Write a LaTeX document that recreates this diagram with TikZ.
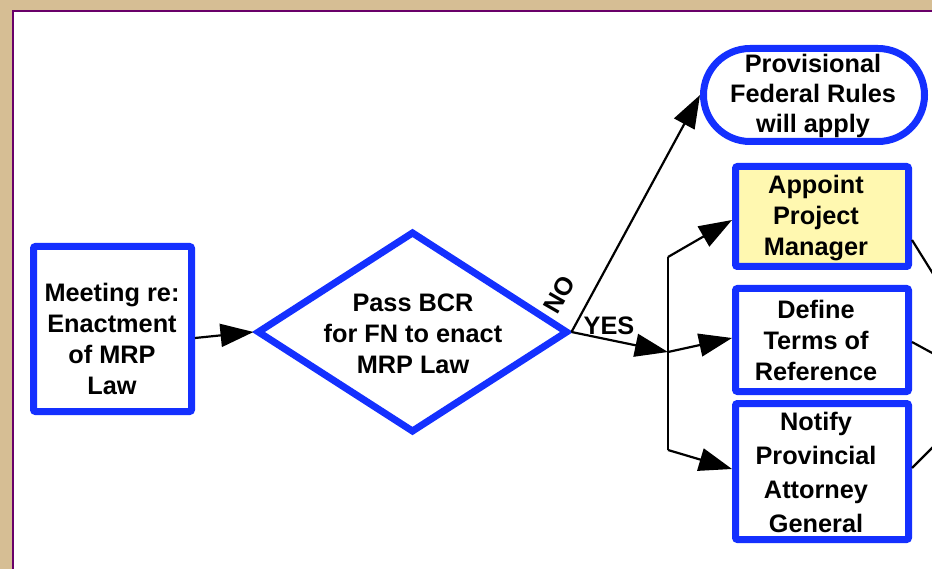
\documentclass[tikz,border=0pt]{standalone}
\usepackage{fontspec}
\setmainfont{Liberation Sans}
\usetikzlibrary{shapes.geometric,arrows.meta}
\definecolor{fblue}{RGB}{20,48,255}
\definecolor{fyellow}{RGB}{255,248,176}
\definecolor{bgtan}{RGB}{214,190,148}
\definecolor{bpurple}{RGB}{105,0,105}
\begin{document}
\begin{tikzpicture}[x=1pt,y=-1pt,
  box/.style={draw=fblue,line width=7pt,rounded corners=2pt,inner sep=0pt,fill=white},
  txt/.style={font=\fontsize{25.3}{31}\selectfont\bfseries,align=center,text=black,inner sep=0pt},
  conn/.style={line width=2.2pt,-{Triangle[length=33pt,width=23pt]}},
  plain/.style={line width=2.2pt}]
\clip (0,0) rectangle (932,569);
\fill[bgtan] (0,0) rectangle (932,569);
\draw[fill=white,draw=bpurple,line width=2pt] (13,11) rectangle (960,600);

% shapes
\node[box,minimum width=158pt,minimum height=165pt] (meet) at (112.5,329) {};
\node[draw=fblue,line width=7pt,diamond,minimum width=311pt,minimum height=201pt,inner sep=0pt,fill=white] (dec) at (412.5,332) {};
\node[box,rounded corners=46.5pt,minimum width=221pt,minimum height=93pt] (prov) at (814,95) {};
\node[box,fill=fyellow,minimum width=173pt,minimum height=100pt] (app) at (822,216.5) {};
\node[box,minimum width=173pt,minimum height=103pt] (def) at (822,340) {};
\node[box,minimum width=173pt,minimum height=136pt] (notp) at (822,471.5) {};

% texts
\node[txt] (meett) at (112,339) {Meeting re:\\Enactment\\of MRP\\Law};
\node[txt] (dect) at (413,334) {Pass BCR\\for FN to enact\\MRP Law};
\node[txt,font=\fontsize{25.3}{30}\selectfont\bfseries] (provt) at (813,96) {Provisional\\Federal Rules\\will apply};
\node[txt] (appt) at (816,218) {Appoint\\Project\\Manager};
\node[txt] (deft) at (816,340) {Define\\Terms of\\Reference};
\node[txt,font=\fontsize{25.3}{34}\selectfont\bfseries] (nott) at (816,472) {Notify\\Provincial\\Attorney\\General};

% junction coordinates
\coordinate (jt) at (668,257);
\coordinate (jm) at (668,352);
\coordinate (jb) at (668,450);
\coordinate (o1) at (945,293);
\coordinate (o2) at (945,360);
\coordinate (o3) at (945,435);

% connectors
\draw[conn] ([yshift=-9pt]meet.east) -- (dec.west);
\draw[conn] (dec.east) -- (prov.west);
\draw[conn] (dec.east) -- (jm);
\draw[plain] (jt) -- (jb);
\draw[conn] (jt) -- ([yshift=-3.5pt]app.west);
\draw[conn] (jm) -- ([yshift=2pt]def.west);
\draw[conn] (jb) -- ([yshift=2.5pt]notp.west);
\draw[plain] ([yshift=-23.5pt]app.east) -- (o1);
\draw[plain] ([yshift=-2pt]def.east) -- (o2);
\draw[plain] ([yshift=3.5pt]notp.east) -- (o3);

% labels
\node[txt,rotate=60] (nolab) at (559,295) {NO};
\node[txt] (yeslab) at (609,326) {YES};
\end{tikzpicture}
\end{document}
